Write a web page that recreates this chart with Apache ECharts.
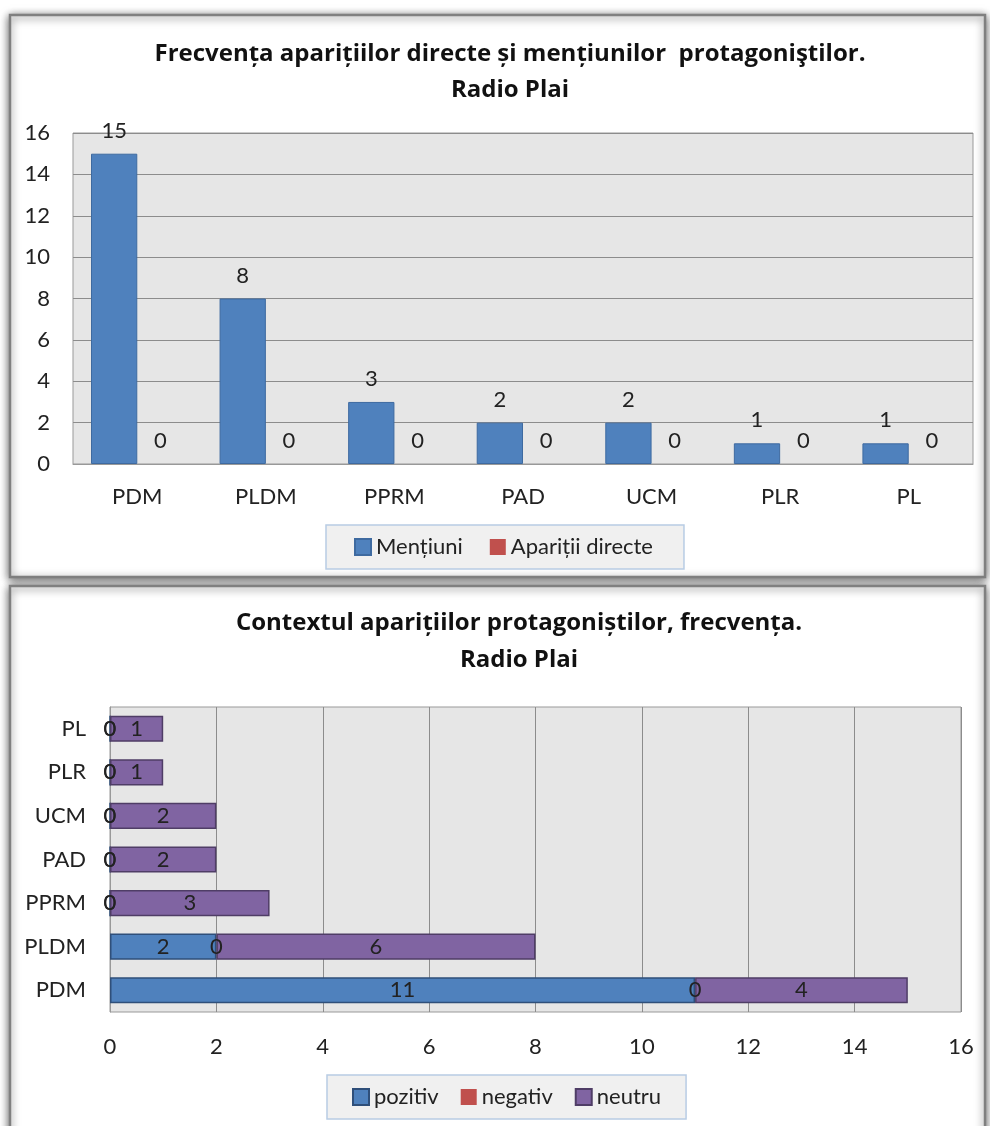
<!DOCTYPE html>
<html><head><meta charset="utf-8">
<script src="https://cdn.jsdelivr.net/npm/echarts@6/dist/echarts.min.js"></script>
<style>html,body{margin:0;padding:0;background:#fff;}#c{width:990px;height:1126px;}</style>
</head><body><div id="c"></div>
<script>
const categories = ['PDM','PLDM','PPRM','PAD','UCM','PLR','PL'];
const mentiuni = [15,8,3,2,2,1,1];
const aparitiiDirecte = [0,0,0,0,0,0,0];
const pozitiv = [11,2,0,0,0,0,0];
const negativ = [0,0,0,0,0,0,0];
const neutru = [4,6,3,2,2,1,1];
const yTicksTop = [0,2,4,6,8,10,12,14,16];

const FONT = 'Lato, "Open Sans", sans-serif';
const TFONT = '"Open Sans", Lato, sans-serif';
const BLUE = '#4f81bd', RED = '#c0504d', PURPLE = '#8064a2';
const txt = '#222';
const FS = 22;

const chart = echarts.init(document.getElementById('c'), null, {renderer:'canvas'});

const frame = (y, h) => ({
  type:'rect', z:-10, silent:true,
  shape:{x:10, y:y, width:975, height:h},
  style:{fill:'#fff', stroke:'#808080', lineWidth:2.5,
         shadowBlur:9, shadowColor:'rgba(0,0,0,0.6)', shadowOffsetX:0, shadowOffsetY:2}
});

const lblStyle = {fontFamily:FONT, fontSize:FS, color:txt};

chart.setOption({
  animation:false,
  textStyle:{fontFamily:FONT},
  graphic:[frame(15,562), frame(586,560)],
  title:[
    {text:'Frecvența aparițiilor directe și mențiunilor  protagoniştilor.\nRadio Plai',
     left:505, top:31, textAlign:'center',
     textStyle:{fontFamily:TFONT, fontSize:24, fontWeight:'bold', color:'#111', lineHeight:36}},
    {text:'Contextul aparițiilor protagoniștilor, frecvența.\nRadio Plai',
     left:514, top:600, textAlign:'center',
     textStyle:{fontFamily:TFONT, fontSize:24, fontWeight:'bold', color:'#111', lineHeight:37}}
  ],
  legend:[
    {data:['Mențiuni','Apariții directe'], left:326, top:525,
     padding:[11,31,11,28], itemGap:27, itemWidth:16, itemHeight:16, icon:'rect',
     backgroundColor:'#f0f0f0', borderColor:'#b8cce4', borderWidth:1.5,
     textStyle:{fontFamily:FONT, fontSize:FS, color:txt}},
    {data:['pozitiv','negativ','neutru'], left:327, top:1075,
     padding:[11,25,11,25], itemGap:22, itemWidth:16, itemHeight:16, icon:'rect',
     backgroundColor:'#f0f0f0', borderColor:'#b8cce4', borderWidth:1.5,
     textStyle:{fontFamily:FONT, fontSize:FS, color:txt}}
  ],
  grid:[
    {left:73, top:133, width:900, height:331, backgroundColor:'#e6e6e6', show:true, borderColor:'#999', borderWidth:1},
    {left:110, top:707, width:851, height:305, backgroundColor:'#e6e6e6', show:true, borderColor:'#999', borderWidth:1}
  ],
  xAxis:[
    {type:'category', gridIndex:0, data:categories,
     axisLine:{show:true, lineStyle:{color:'#999'}}, axisTick:{show:false},
     axisLabel:{margin:22, fontFamily:FONT, fontSize:FS, color:txt}},
    {type:'value', gridIndex:1, min:0, max:16, interval:2,
     axisLine:{show:false}, axisTick:{show:false},
     splitLine:{show:true, lineStyle:{color:'#8c8c8c', width:1}},
     axisLabel:{margin:24, fontFamily:FONT, fontSize:FS, color:txt}}
  ],
  yAxis:[
    {type:'value', gridIndex:0, min:yTicksTop[0], max:yTicksTop[yTicksTop.length-1], interval:2,
     axisLine:{show:false}, axisTick:{show:false},
     splitLine:{show:true, lineStyle:{color:'#8c8c8c', width:1}},
     axisLabel:{margin:23, fontFamily:FONT, fontSize:FS, color:txt}},
    {type:'category', gridIndex:1, data:categories,
     axisLine:{show:true, lineStyle:{color:'#999'}}, axisTick:{show:false},
     axisLabel:{margin:24, fontFamily:FONT, fontSize:FS, color:txt}}
  ],
  series:[
    {name:'Mențiuni', type:'bar', xAxisIndex:0, yAxisIndex:0, data:mentiuni,
     barGap:'0%', barCategoryGap:'28%',
     itemStyle:{color:BLUE, borderColor:'#3e6aa0', borderWidth:1},
     label:{show:true, position:'top', distance:12, ...lblStyle}},
    {name:'Apariții directe', type:'bar', xAxisIndex:0, yAxisIndex:0, data:aparitiiDirecte,
     itemStyle:{color:RED, borderWidth:0},
     label:{show:true, position:'top', distance:12, ...lblStyle}},
    {name:'pozitiv', type:'bar', stack:'s', xAxisIndex:1, yAxisIndex:1, data:pozitiv,
     barCategoryGap:'40%',
     itemStyle:{color:BLUE, borderColor:'#2f4f7a', borderWidth:1.5},
     label:{show:true, position:'inside', ...lblStyle}},
    {name:'negativ', type:'bar', stack:'s', xAxisIndex:1, yAxisIndex:1, data:negativ,
     itemStyle:{color:RED, borderWidth:0},
     label:{show:true, position:'inside', ...lblStyle}},
    {name:'neutru', type:'bar', stack:'s', xAxisIndex:1, yAxisIndex:1, data:neutru,
     itemStyle:{color:PURPLE, borderColor:'#4f3d66', borderWidth:1.5},
     label:{show:true, position:'inside', ...lblStyle}}
  ]
});
</script></body></html>
